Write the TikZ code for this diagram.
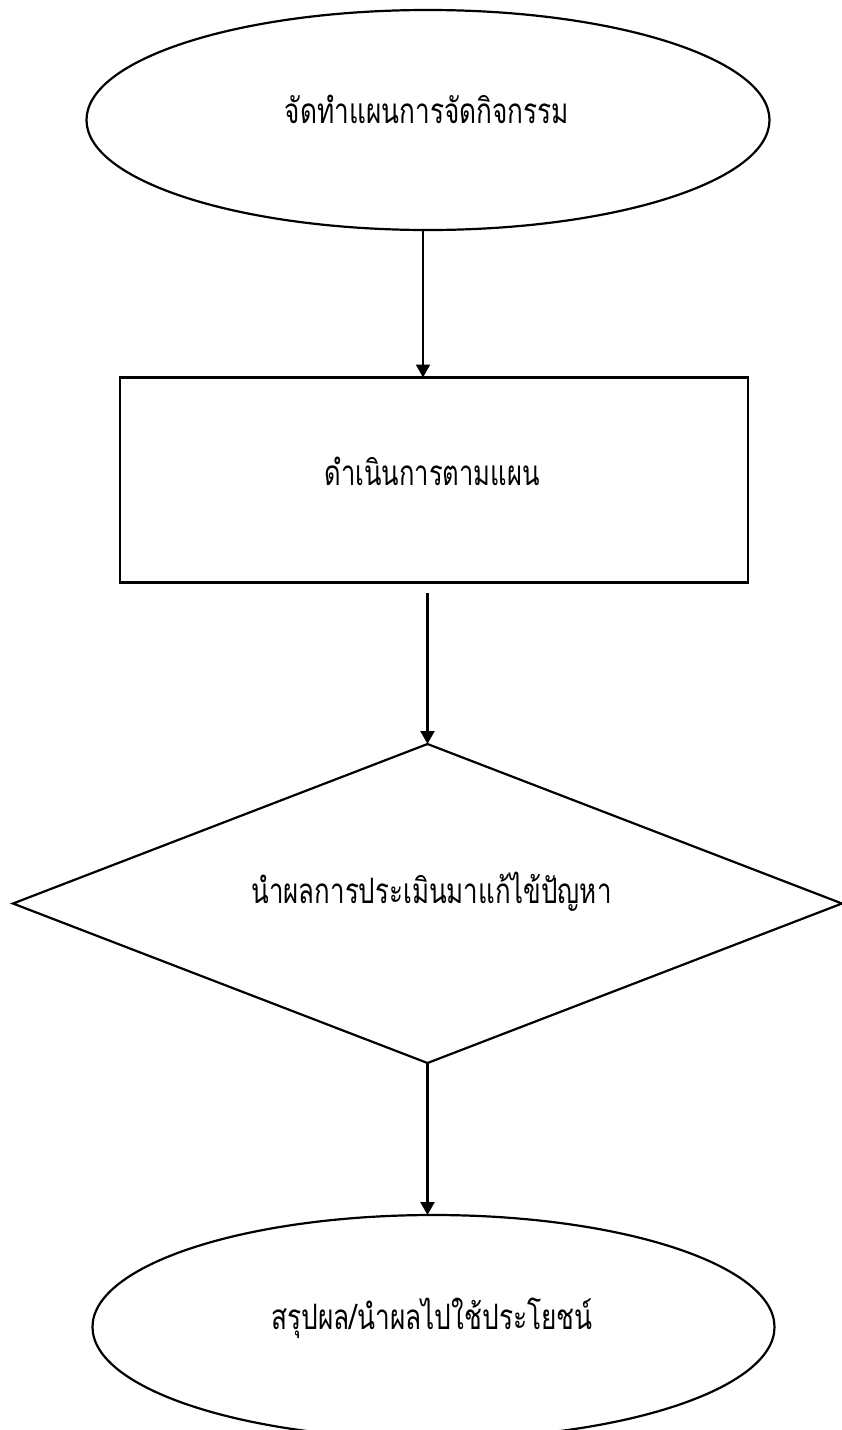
\documentclass[tikz,border=0pt]{standalone}
\usepackage{fontspec}
\usepackage{graphicx}
\newfontfamily\thaifont[Script=Thai]{Loma}
\usetikzlibrary{shapes.geometric,arrows.meta}
\newcommand\fitw[2]{\resizebox{#1}{\height}{\thaifont\fontsize{35}{42}\selectfont #2}}
\begin{document}
\begin{tikzpicture}[x=1pt,y=-1pt,
  shapeline/.style={draw=black,line width=2.2pt,inner sep=0pt,outer sep=0pt},
  ellbox/.style={shapeline,ellipse},
  rectbox/.style={shapeline,rectangle},
  decbox/.style={shapeline,diamond,aspect=2.6},
  txt/.style={inner sep=0pt,anchor=base},
  arr/.style={draw=black,line width=2.2pt,-{Triangle[width=14pt,length=13pt]}}]
\useasboundingbox[fill=white] (0,0) rectangle (842,1430);
\node[ellbox,minimum width=683pt,minimum height=220pt] (e1) at (428,120) {};
\node[rectbox,minimum width=628pt,minimum height=205pt] (r) at (434,480) {};
\node[decbox,minimum width=829pt,minimum height=319pt] (d) at (427.5,903.5) {};
\node[ellbox,minimum width=682pt,minimum height=224pt] (e2) at (433.5,1327) {};
\node[txt] (e1t) at ([xshift=-1pt,yshift=-3pt]e1.center) {\fitw{284pt}{จัดทำแผนการจัดกิจกรรม}};
\node[txt] (rt) at ([xshift=-2pt,yshift=-5pt]r.center) {\fitw{215pt}{ดำเนินการตามแผน}};
\node[txt] (dt) at ([xshift=4pt,yshift=0pt]d.center) {\fitw{360pt}{นำผลการประเมินมาแก้ไข้ปัญหา}};
\node[txt] (e2t) at ([xshift=-1.5pt,yshift=-2pt]e2.center) {\fitw{321pt}{สรุปผล/นำผลไปใช้ประโยชน์}};
\coordinate (a1) at (423,0);
\draw[arr] (e1.south -| a1) -- (r.north -| a1);
\draw[arr] ([yshift=-10pt]r.south -| d.north) -- (d.north);
\draw[arr] (d.south) -- (e2.north -| d.south);
\end{tikzpicture}
\end{document}
